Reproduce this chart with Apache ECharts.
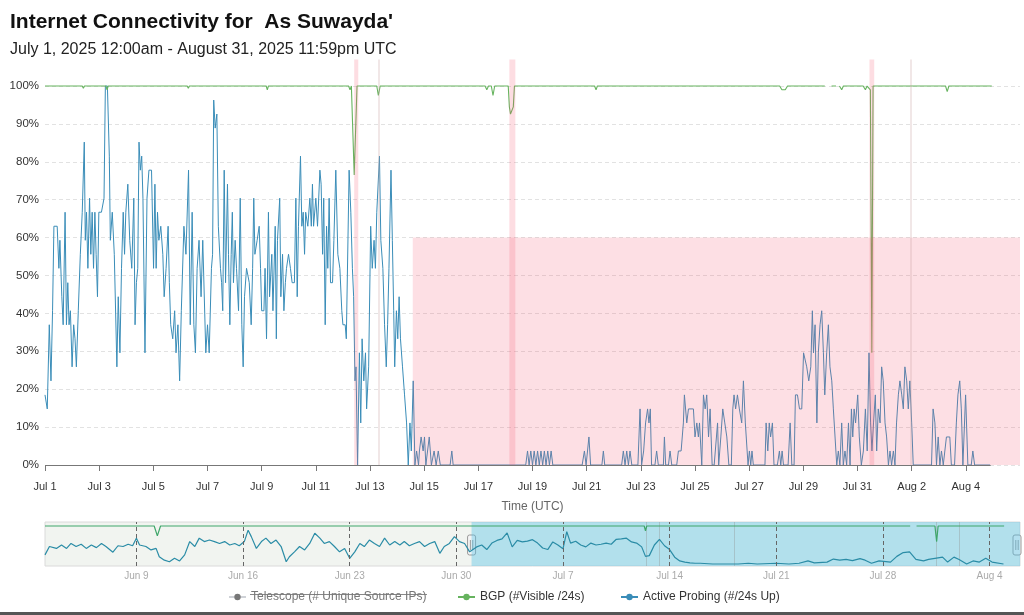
<!DOCTYPE html>
<html><head><meta charset="utf-8">
<script src="https://cdn.jsdelivr.net/npm/echarts@6/dist/echarts.min.js"></script>
<style>html,body{margin:0;padding:0;background:#fff}#c{width:1024px;height:615px}</style>
</head><body><div id="c"></div>
<script>
// ---- data (hours offset from 2025-07-01 00:00 UTC, value %) ----
const TEL = 'Telescope (# Unique Source IPs)';
const BGP = 'BGP (#Visible /24s)';
const AP = 'Active Probing (#/24s Up)';

// navigator (overview) readings, Jun 3 - Aug 5
const navProbe = [[-672,24],[-665,46],[-654,41],[-646,50],[-638,41],[-631,54],[-623,46],[-615,52],[-607,41],[-599,50],[-591,43],[-583,54],[-576,46],[-565,31],[-557,48],[-549,46],[-541,52],[-534,48],[-528,68],[-523,50],[-513,46],[-505,37],[-497,41],[-492,19],[-484,10],[-476,6],[-468,15],[-460,8],[-452,24],[-444,59],[-436,46],[-429,68],[-421,59],[-413,63],[-405,59],[-397,54],[-389,59],[-381,50],[-373,54],[-366,48],[-358,59],[-352,89],[-347,72],[-339,41],[-331,59],[-324,68],[-316,54],[-308,63],[-300,46],[-292,6],[-287,19],[-279,32],[-271,46],[-263,37],[-255,54],[-247,81],[-239,68],[-232,54],[-224,59],[-216,46],[-208,32],[-200,41],[-192,15],[-184,32],[-176,54],[-169,46],[-161,63],[-153,54],[-145,46],[-137,68],[-129,50],[-121,59],[-113,50],[-106,59],[-98,48],[-90,54],[-82,59],[-74,46],[-66,54],[-58,59],[-50,28],[-43,46],[-35,54],[-27,72],[-19,59],[-11,54],[-3,32],
  [8,45],[16,50],[24,38],[32,55],[40,62],[48,66],[56,82],[64,45],[72,62],[80,58],[88,60],[96,64],[104,55],[112,42],[120,38],[128,58],[136,50],[144,40],[150,85],[156,55],[164,60],[172,50],[180,45],[188,55],[196,50],[204,52],[212,55],[220,52],[228,65],[236,66],[244,68],[252,58],[260,55],[268,45],[274,20],[280,22],[288,50],[296,65],[304,48],[312,38],[320,18],[328,8],[336,5],[344,3],[352,2],[360,2],[380,0],[420,0],[436,2],[450,0],[480,2],[500,0],[516,2],[530,8],[540,3],[560,5],[570,13],[580,10],[590,12],[600,9],[612,14],[620,10],[630,2],[642,8],[660,5],[670,20],[680,30],[690,32],[700,12],[712,8],[720,12],[730,15],[742,18],[750,5],[760,18],[768,12],[780,0],[790,8],[800,5],[810,15],[820,5],[838,0]];
const navBgp = [[-672,100],[-500,100],[-495,74],[-490,100],[272,100],[274,87],[276,100],[411,100],[413,95],[415,100],[691,100],[692,null],[701,100],[730,100],[732.7,59],[735,100],[839,100]];

const probeJuly = [[0,18.5],[2,14.8],[3.8,37.0],[5.3,22.2],[6.7,40.7],[7.9,63.0],[10.8,63.0],[12.3,51.9],[13.2,59.3],[14.9,44.4],[16.1,37.0],[17.8,66.7],[19,37.0],[20.2,48.1],[21.3,37.0],[22.5,40.7],[24,25.9],[25.4,37.0],[26.6,33.3],[27.8,25.9],[29.5,40.7],[31.3,55.6],[33,66.7],[34.8,85.2],[35.7,59.3],[36.8,66.7],[38,51.9],[39.5,70.4],[40.6,55.6],[41.8,66.7],[43,51.9],[44.2,66.7],[45.3,55.6],[46.5,44.4],[47.7,66.7],[50,66.7],[52.3,70.4],[53.5,100],[55.3,100],[57,81.5],[57.9,59.3],[59.6,66.7],[61.4,55.6],[63.7,25.9],[64.9,44.4],[66.4,29.6],[67.8,51.9],[69.3,66.7],[70.5,55.6],[71.6,66.7],[73.4,74.1],[75.1,59.3],[76.9,51.9],[78.7,70.4],[79.8,37.0],[81,48.1],[82.2,51.9],[83.3,85.2],[84.5,77.8],[85.7,81.5],[86.8,70.4],[88.6,29.6],[90.4,70.4],[92.1,77.8],[94.4,77.8],[96.2,51.9],[97.4,74.1],[98.5,51.9],[99.7,66.7],[100.9,59.3],[102.6,63.0],[104.4,55.6],[105.6,44.4],[107.3,51.9],[109.1,63.0],[110.2,48.1],[111.4,37.0],[113.2,33.3],[114.9,40.7],[116.1,29.6],[117.8,37.0],[119.3,22.2],[120.8,40.7],[123.1,63.0],[124.9,55.6],[127.2,77.8],[128.7,37.0],[130.4,66.7],[131.9,37.0],[133.3,29.6],[134.8,51.9],[136.5,59.3],[138.3,44.4],[139.8,59.3],[142.5,29.6],[144,37.0],[145.5,29.6],[147.5,51.9],[148.5,55.6],[149.5,96.3],[150.8,88.9],[152.3,92.6],[153.6,63.0],[155.5,51.9],[156.5,48.1],[157.5,40.7],[158.8,77.8],[160,48.1],[161.7,74.1],[162.6,55.6],[163.8,37.0],[165,55.6],[166,66.7],[167,48.1],[168.5,59.3],[169.7,51.9],[171.5,40.7],[173,70.4],[174.4,37.0],[175.6,25.9],[176.8,44.4],[178.6,51.9],[181,48.1],[182.7,37.0],[184,51.9],[185,70.4],[186,55.6],[188,59.3],[189.8,63.0],[191,51.9],[192,40.7],[194,40.7],[195,51.9],[196.3,33.3],[198,66.7],[199,44.4],[201,55.6],[202,40.7],[204,63.0],[205,33.3],[206,59.3],[208,70.4],[209,44.4],[210.5,55.6],[211.7,40.7],[213,48.1],[214,51.9],[215.8,55.6],[217.5,51.9],[219,48.1],[221,48.1],[222.3,70.4],[223.5,44.4],[224.6,63.0],[226.4,81.5],[227.6,63.0],[228.8,66.7],[230,55.6],[231,66.7],[232.9,63.0],[234.7,70.4],[236,63.0],[237,74.1],[238,63.0],[240,70.4],[241.5,63.0],[243.6,77.8],[244.7,74.1],[246,55.6],[247,70.4],[248.3,37.0],[249.5,63.0],[250.6,51.9],[251.8,70.4],[253,48.1],[254.8,48.1],[256,59.3],[257.7,77.8],[259.5,55.6],[261.3,51.9],[263,40.7],[264,37.0],[266,37.0],[267,33.3],[269.5,77.8],[271,66.7],[272.4,51.9],[273.5,44.4],[274.7,22.2],[275.6,25.9],[277,0],[278.6,29.6],[279.8,11.1],[281,33.3],[282.5,22.2],[284,29.6],[285,14.8],[286.8,25.9],[288.6,63.0],[290,51.9],[291.6,59.3],[292.8,51.9],[294,66.7],[296.4,81.5],[297.6,59.3],[299.4,51.9],[300.9,37.0],[302.4,25.9],[303.6,37.0],[304.8,51.9],[306.6,77.8],[307.8,59.3],[309,40.7],[309.9,25.9],[311.4,40.7],[312.6,33.3],[313.8,44.4],[315,33.3],[316.8,25.9],[318.6,18.5],[320.4,11.1],[321.9,0],[323.4,11.1],[324.6,3.7],[326.3,22.2],[327.8,0],[329.3,3.7],[331,0],[331.8,3.7],[333.3,7.4],[335.1,3.7],[336.3,7.4],[337.5,0],[339,0],[340.5,7.4],[342.4,0],[344.8,3.7],[346.6,0],[348.5,3.7],[350.3,0],[359,0],[360.5,3.7],[361.7,0],[426,0],[427.6,3.7],[429,0],[430.5,3.7],[432,0],[433.5,3.7],[435,0],[436.5,3.7],[438,0],[439.5,3.7],[441,0],[442.5,3.7],[444,0],[445.5,3.7],[447,0],[448.5,3.7],[450,0],[476,0],[478,3.7],[479.5,0],[482,7.4],[483.5,0],[493.5,0],[494.8,3.7],[496,0],[511,0],[512.5,3.7],[514,0],[515.5,3.7],[517,0],[518.4,3.7],[520,0],[525.4,0],[527.3,14.8],[528.7,0],[530.5,3.7],[532.2,11.1],[534,14.8],[535.2,11.1],[536.4,14.8],[537.5,0],[540.5,0],[542,3.7],[543.5,0],[548,0],[548.9,7.4],[550,0],[552.5,0],[553.9,3.7],[555.4,0],[559.8,0],[561.3,3.7],[563.7,3.7],[565.7,11.1],[566.6,18.5],[568.7,11.1],[570.2,14.8],[571.7,14.8],[574.6,14.8],[576,7.4],[577.6,11.1],[579,7.4],[580,11.1],[582,0],[583.5,18.5],[585,14.8],[586.4,18.5],[588,7.4],[589.4,14.8],[591.2,0],[593,0],[596,11.1],[597,0],[598.9,7.4],[600.6,14.8],[602.4,11.1],[604.2,7.4],[606,0],[608.2,0],[609.5,14.8],[610.6,18.5],[612,14.8],[613.6,18.5],[615.3,14.8],[617.4,11.1],[618.9,22.2],[620.6,11.1],[623,0],[624.2,3.7],[625.4,0],[626.5,3.7],[627.7,0],[638,0],[639,11.1],[640.5,3.7],[641.8,11.1],[643,7.4],[644.6,11.1],[646,0],[649,0],[650.8,3.7],[652,0],[653.2,3.7],[654.4,0],[658.5,0],[660.3,11.1],[661.8,0],[663.8,0],[665,18.5],[666.8,18.5],[668.6,14.8],[670.6,14.8],[672.2,29.6],[673.6,29.6],[675,25.9],[676.8,22.2],[678.6,25.9],[680,40.7],[681,29.6],[682.4,37.0],[684,11.1],[685.3,29.6],[686.8,37.0],[688.3,40.7],[689.8,29.6],[691,18.5],[692.7,29.6],[694.2,37.0],[695.6,25.9],[697.2,22.2],[698.6,14.8],[700,14.8],[701.6,0],[703,3.7],[704.4,0],[706,11.1],[707.4,0],[708.9,3.7],[710.4,0],[712,11.1],[713.4,0],[714.6,14.8],[715.8,7.4],[717,14.8],[718.3,11.1],[720.2,18.5],[721.6,7.4],[723.4,0],[725.2,3.7],[727,14.8],[728.6,3.7],[730.2,29.6],[731.6,11.1],[732.8,3.7],[734.2,11.1],[735.8,18.5],[737,3.7],[738.4,14.8],[740,11.1],[741.4,25.9],[742.8,22.2],[744.4,11.1],[745.8,7.4],[747.4,0],[748.8,3.7],[750.2,0],[751.8,3.7],[753.2,0],[754.6,11.1],[756.2,18.5],[757.6,22.2],[759.2,18.5],[760.6,14.8],[762,25.9],[763.6,22.2],[765,14.8],[766.4,22.2],[768,11.1],[769.4,0],[785.6,0],[787,14.8],[788.6,11.1],[790,0],[791.5,7.4],[793,0],[794.4,3.7],[796,0],[797.4,0],[798.8,7.4],[800.3,7.4],[801.8,7.4],[803.2,0],[806,0],[807.6,11.1],[809,18.5],[810.6,22.2],[812,14.8],[813.4,0],[815.8,18.5],[817.8,0],[820.8,0],[822.2,3.7],[823.8,0],[837.5,0]];

const bgpData = [[0,100],[33,100],[34,99.4],[35,100],[54,100],[55,99],[56,100],[126,100],[127,99.4],[128,100],[196,100],[197,99],[198,100],[269,100],[270.3,99],[271.5,100],[272.3,100],[274,76.5],[276.5,100],[294,100],[295.4,97.5],[297,100],[390,100],[391.5,99],[393,100],[395.5,100],[397,97.5],[398.5,100],[410.5,100],[411.5,94.5],[412.5,92.6],[414,92.6],[415,94.5],[416,100],[487,100],[488.3,99],[489.5,100],[651,100],[653,99],[656,99],[658,100],[691,100],[692,null],[697,100],[701,100],[702,null],[704,100],[706,99],[707.5,100],[725,100],[727,99],[728.5,100],[731.4,99],[732.7,29.6],[733.8,100],[766,100],[766.8,99.5],[767.6,100],[798,100],[799.5,98.5],[801,100],[839,100]];

const outageBands = [[274,277.6],[411.5,416.8],[730.6,734.8]];
const eventLines = [295.7, 767.6];
const alertBand = {from:325.9, to:864, top:60};
const navWeeks = [-528,-360,-192,-24,144,312,480,648,816];
const axisEnd = 838;

const FONT = '"Liberation Sans", Arial, Helvetica, sans-serif';
const MON = ['Jan','Feb','Mar','Apr','May','Jun','Jul','Aug','Sep','Oct','Nov','Dec'];
const T0 = Date.UTC(2025,6,1);
function dayLabel(h){const d=new Date(T0+h*3600000);return MON[d.getUTCMonth()]+' '+d.getUTCDate();}

const chart = echarts.init(document.getElementById('c'), null, {renderer:'canvas'});

const markAreas = [[{xAxis:alertBand.from,yAxis:0},{xAxis:alertBand.to,yAxis:alertBand.top}]]
  .concat(outageBands.map(b=>[{xAxis:b[0],yAxis:0,itemStyle:{color:'rgba(245,85,110,0.2)'}},{xAxis:b[1],yAxis:107}]));

function legendAt(name,left){
  return {data:[name],left:left,top:586,itemWidth:17,itemHeight:8,selected:{[TEL]:false},
    inactiveColor:'#777',textStyle:{fontSize:12,color:'#333',fontFamily:FONT},selectedMode:false};
}

chart.setOption({
  animation:false,
  textStyle:{fontFamily:FONT},
  title:{left:5,top:5,text:"Internet Connectivity for  As Suwayda'",
    subtext:'July 1, 2025 12:00am - August 31, 2025 11:59pm UTC',itemGap:7,
    textStyle:{fontSize:21,fontWeight:'bold',color:'#111',lineHeight:24,fontFamily:FONT},
    subtextStyle:{fontSize:16,color:'#222',lineHeight:18,fontFamily:FONT}},
  legend:[legendAt(TEL,223),legendAt(BGP,452),legendAt(AP,615)],
  grid:[{left:45,right:4,top:59.5,height:405.5},
        {left:45,right:4,top:522,height:44,show:true,backgroundColor:'#f1f4f0',borderColor:'#dadada',borderWidth:1}],
  xAxis:[{type:'value',gridIndex:0,min:0,max:864,interval:48,
    axisLine:{show:false},axisTick:{show:true,length:6,lineStyle:{color:'#777'}},
    axisLabel:{formatter:dayLabel,showMaxLabel:false,fontSize:11,color:'#333',margin:16},
    splitLine:{show:false},name:'Time (UTC)',nameLocation:'middle',nameGap:36,
    nameTextStyle:{fontSize:12,color:'#666'}},
   {type:'value',gridIndex:1,min:-672,max:864,axisLine:{show:false},axisTick:{show:false},splitLine:{show:false},
    axisLabel:{customValues:navWeeks,formatter:dayLabel,fontSize:10,color:'#aaa',margin:5}}],
  yAxis:[{type:'value',gridIndex:0,min:0,max:107,interval:10,axisLine:{show:false},axisTick:{show:false},
    axisLabel:{formatter:'{value}%',showMaxLabel:false,fontSize:11.5,color:'#333',margin:6},
    splitLine:{showMaxLine:false,lineStyle:{type:[4,3],color:'#e2e2e2'}}},
   {type:'value',gridIndex:1,min:-5.3,max:110.5,show:false}],
  series:[
    {name:TEL,type:'line',data:[],color:'#444',symbol:'circle',symbolSize:4,showSymbol:false},
    {name:AP,type:'line',xAxisIndex:0,yAxisIndex:0,data:probeJuly,color:'#3a8db8',
      lineStyle:{width:1},symbol:'circle',symbolSize:4,showSymbol:false,z:2},
    {name:BGP,type:'line',xAxisIndex:0,yAxisIndex:0,data:bgpData,color:'#66b35e',connectNulls:false,
      lineStyle:{width:1.1},symbol:'circle',symbolSize:4,showSymbol:false,z:3},
    {name:'bands',type:'line',xAxisIndex:0,yAxisIndex:0,data:[],z:5,silent:true,
      markArea:{silent:true,z:10,itemStyle:{color:'rgba(245,85,110,0.19)'},data:markAreas},
      markLine:{silent:true,z:11,symbol:'none',label:{show:false},
        lineStyle:{color:'rgba(200,160,160,0.35)',width:1.5,type:'solid'},
        data:eventLines.map(h=>({xAxis:h}))}},
    {name:'axisBase',type:'line',xAxisIndex:0,yAxisIndex:0,data:[],z:6,silent:true,
      markLine:{silent:true,z:12,symbol:'none',label:{show:false},
        lineStyle:{color:'#777',width:1.2,type:'solid'},
        data:[[{coord:[0,0]},{coord:[axisEnd,0]}]]}},
    {name:'navSel',type:'line',xAxisIndex:1,yAxisIndex:1,data:[],z:1,silent:true,
      markArea:{silent:true,z:1,itemStyle:{color:'rgba(90,195,230,0.42)'},data:[[{xAxis:0},{xAxis:864}]]},
      markLine:{silent:true,z:1,symbol:'none',label:{show:false},
        lineStyle:{color:'rgba(140,140,140,0.35)',width:1,type:'solid'},
        data:outageBands.map(b=>({xAxis:(b[0]+b[1])/2})).concat(eventLines.map(h=>({xAxis:h})))}},
    {name:'navBgp',type:'line',xAxisIndex:1,yAxisIndex:1,data:navBgp,color:'#3fa66a',showSymbol:false,
      connectNulls:false,lineStyle:{width:1.2},z:3,silent:true},
    {name:'navProbe',type:'line',xAxisIndex:1,yAxisIndex:1,data:navProbe,color:'#2a8ca6',showSymbol:false,
      lineStyle:{width:1.2},z:3,silent:true,
      markLine:{silent:true,z:4,symbol:'none',label:{show:false},
        lineStyle:{color:'#666',width:1,type:[4,3]},data:navWeeks.map(h=>({xAxis:h}))}}
  ]
});

const hx0 = chart.convertToPixel({xAxisIndex:1},0);
const hx1 = Math.min(chart.convertToPixel({xAxisIndex:1},864), 1017);
function handle(x){
  return {type:'group',x:x,y:545,children:[
    {type:'rect',shape:{x:-4,y:-10,width:8,height:20,r:2},style:{fill:'#f4f4f4',stroke:'#999',lineWidth:1}},
    {type:'line',shape:{x1:-1.2,y1:-5,x2:-1.2,y2:5},style:{stroke:'#999',lineWidth:1}},
    {type:'line',shape:{x1:1.2,y1:-5,x2:1.2,y2:5},style:{stroke:'#999',lineWidth:1}}
  ]};
}
chart.setOption({graphic:[
  handle(hx0), handle(hx1),
  {type:'line',shape:{x1:250,y1:594.5,x2:427,y2:594.5},style:{stroke:'#888',lineWidth:1}},
  {type:'rect',shape:{x:0,y:612,width:1024,height:3},style:{fill:'#555'}}
]});
</script></body></html>
